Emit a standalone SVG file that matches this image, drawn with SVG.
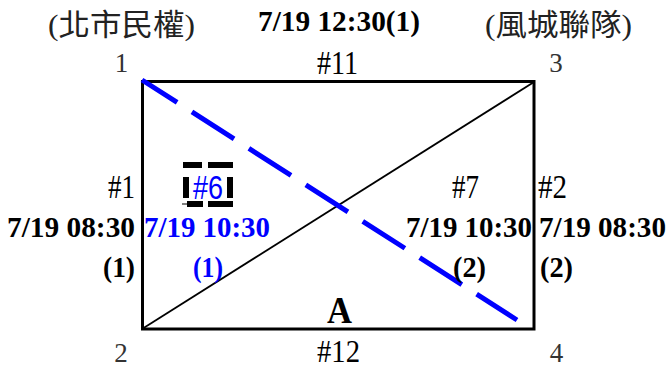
<svg xmlns="http://www.w3.org/2000/svg" width="669" height="369" viewBox="0 0 669 369">
<style>
.s{font-family:"Liberation Serif","Noto Sans CJK TC",serif;fill:#000}
.b{font-weight:bold;font-size:30px}
.r{font-size:33px}
.c{font-size:27px;fill:#333}
.blue{fill:#0000ff}
.cjk{font-family:"Liberation Serif","Noto Sans CJK TC",serif;font-size:30px;fill:#222}
</style>
<rect width="669" height="369" fill="#fff"/>
<g id="teams">
<text class="cjk" x="48" y="35" textLength="147" lengthAdjust="spacingAndGlyphs">(北市民權)</text>
<text class="s b" x="258" y="31" textLength="162" lengthAdjust="spacingAndGlyphs">7/19 12:30(1)</text>
<text class="cjk" x="485" y="35" textLength="147" lengthAdjust="spacingAndGlyphs">(風城聯隊)</text>
</g>
<g id="field">
<rect x="142.5" y="81.5" width="391.5" height="247.5" fill="none" stroke="#000" stroke-width="3"/>
</g>
<g id="connectors">
<line x1="142" y1="329" x2="534" y2="82" stroke="#000" stroke-width="1.8"/>
<line x1="142" y1="80" x2="517" y2="320" stroke="#0000ff" stroke-width="5" stroke-dasharray="50 17.6" stroke-dashoffset="8.3"/>
</g>
<g id="corners">
<text class="s c" x="121.5" y="72" text-anchor="middle">1</text>
<text class="s c" x="556" y="72" text-anchor="middle">3</text>
<text class="s c" x="121" y="362" text-anchor="middle">2</text>
<text class="s c" x="556.5" y="362" text-anchor="middle">4</text>
</g>
<g id="game11">
<text class="s r" x="317" y="74" textLength="41" lengthAdjust="spacingAndGlyphs">#11</text>
</g>
<g id="game12">
<text class="s" x="317" y="362" font-size="31" textLength="43" lengthAdjust="spacingAndGlyphs">#12</text>
</g>
<g id="game1">
<text class="s r" x="108" y="198" textLength="27" lengthAdjust="spacingAndGlyphs">#1</text>
<text class="s b" x="7" y="237" textLength="128" lengthAdjust="spacingAndGlyphs">7/19 08:30</text>
<text class="s b" x="103" y="277" textLength="32" lengthAdjust="spacingAndGlyphs">(1)</text>
</g>
<g id="game6">
<path d="M183 165H202M208 165H233M186 177V198M230 177V198M187 204H203M208 204H233" fill="none" stroke="#000" stroke-width="6"/>
<line x1="182" y1="204" x2="187" y2="204" stroke="#000" stroke-width="1"/>
<text x="193" y="199" font-family="Liberation Sans,Arial,sans-serif" font-size="33" fill="#0000ff" textLength="30" lengthAdjust="spacingAndGlyphs">#6</text>
<text class="s b blue" x="144" y="237" textLength="126" lengthAdjust="spacingAndGlyphs">7/19 10:30</text>
<text class="s b blue" x="193" y="277" textLength="30" lengthAdjust="spacingAndGlyphs">(1)</text>
</g>
<g id="game7">
<text class="s r" x="452" y="198" textLength="27" lengthAdjust="spacingAndGlyphs">#7</text>
<text class="s b" x="406" y="237" textLength="126" lengthAdjust="spacingAndGlyphs">7/19 10:30</text>
<text class="s b" x="453" y="277" textLength="33" lengthAdjust="spacingAndGlyphs">(2)</text>
</g>
<g id="game2">
<text class="s r" x="538" y="198" textLength="29" lengthAdjust="spacingAndGlyphs">#2</text>
<text class="s b" x="539" y="237" textLength="127" lengthAdjust="spacingAndGlyphs">7/19 08:30</text>
<text class="s b" x="540" y="277" textLength="33" lengthAdjust="spacingAndGlyphs">(2)</text>
</g>
<g id="groupA">
<text class="s" x="327" y="323" font-size="37" font-weight="bold" textLength="25" lengthAdjust="spacingAndGlyphs">A</text>
</g>
</svg>
